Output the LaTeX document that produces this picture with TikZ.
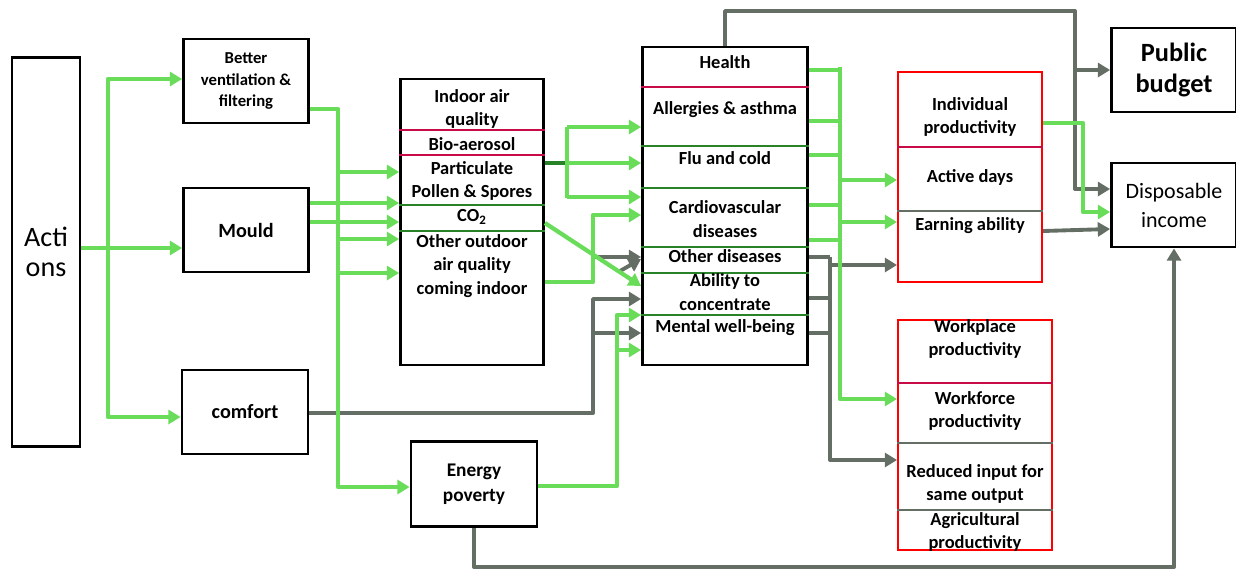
\documentclass[tikz,border=0pt]{standalone}
\usepackage{fontspec}
\setmainfont{Carlito}
\usetikzlibrary{arrows.meta}
\newcommand\pxu{0.02cm}
\definecolor{lgreen}{RGB}{105,220,90}
\definecolor{dkgreen}{RGB}{40,130,40}
\definecolor{arrgray}{RGB}{100,110,100}
\definecolor{crimsonl}{RGB}{200,10,70}
\tikzset{
  box/.style={draw, line width=1.6pt, inner sep=0pt, align=center, font=\bfseries\fontsize{10.5}{13}\selectfont},
  redbox/.style={draw=red, line width=1.1pt, inner sep=0pt},
  lbl/.style={inner sep=0pt, align=center, font=\bfseries\fontsize{10.5}{13.5}\selectfont},
  gline/.style={draw=lgreen, line width=2.4pt, line join=round},
  garrow/.style={gline, -{Triangle[length=7pt,width=8pt]}},
  grline/.style={draw=arrgray, line width=2.2pt, line join=round},
  grarrow/.style={grline, -{Triangle[length=7pt,width=8pt]}},
  redsep/.style={draw=crimsonl, line width=1.3pt},
  grnsep/.style={draw=dkgreen, line width=1.2pt},
  graysep/.style={draw=arrgray, line width=1.6pt}
}
\begin{document}
\begin{tikzpicture}[x=\pxu, y=-\pxu]
  \useasboundingbox (0,0) rectangle (1236,569);

  \node[box, minimum width=68*\pxu, minimum height=389*\pxu, font=\fontsize{16}{17.5}\selectfont] (actions) at (46,252) {Acti\\ons};
  \node[box, minimum width=125*\pxu, minimum height=84*\pxu, font=\bfseries\fontsize{9.5}{12.5}\selectfont] (better) at (246,81) {Better\\ventilation \&\\filtering};
  \node[box, minimum width=125*\pxu, minimum height=84*\pxu, font=\bfseries\fontsize{11.5}{14}\selectfont] (mould) at (246,230) {Mould};
  \node[box, minimum width=126*\pxu, minimum height=84*\pxu, font=\bfseries\fontsize{11.5}{14}\selectfont] (comfort) at (245,412) {comfort};
  \node[box, minimum width=143*\pxu, minimum height=286*\pxu] (indoor) at (472,222) {};
  \node[box, minimum width=126*\pxu, minimum height=85*\pxu, font=\bfseries\fontsize{11}{14}\selectfont] (energy) at (474,484) {Energy\\poverty};
  \node[box, minimum width=165*\pxu, minimum height=318*\pxu] (health) at (725,206) {};
  \node[redbox, minimum width=144*\pxu, minimum height=210*\pxu] (prodA) at (970,177) {};
  \node[redbox, minimum width=154*\pxu, minimum height=230*\pxu] (prodB) at (975,435) {};
  \node[box, minimum width=125*\pxu, minimum height=84*\pxu, font=\bfseries\fontsize{15}{18}\selectfont] (public) at (1174,70) {Public\\budget};
  \node[box, minimum width=125*\pxu, minimum height=84*\pxu, font=\fontsize{12.5}{16.5}\selectfont] (dispo) at (1174,205) {Disposable\\income};

  \draw[redsep] (indoor.west |- 0,130) -- (indoor.east |- 0,130);
  \draw[redsep] (indoor.west |- 0,155) -- (indoor.east |- 0,155);
  \draw[grnsep] (indoor.west |- 0,205) -- (indoor.east |- 0,205);
  \draw[grnsep] (indoor.west |- 0,231) -- (indoor.east |- 0,231);
  \node[lbl] (iaq) at (472,109) {Indoor air\\quality};
  \node[lbl] (bio) at (472,144) {Bio-aerosol};
  \node[lbl] (partic) at (472,181) {Particulate\\Pollen \& Spores};
  \node[lbl] (co2) at (472,217) {CO\textsubscript{2}};
  \node[lbl] (outdoor) at (472,266) {Other outdoor\\air quality\\coming indoor};

  \draw[redsep] (health.west |- 0,87) -- (health.east |- 0,87);
  \foreach \y in {146,188,247,273,315}
    \draw[grnsep] (health.west |- 0,\y) -- (health.east |- 0,\y);
  \node[lbl] (hlth) at (725,62) {Health};
  \node[lbl] (allerg) at (725,110) {Allergies \& asthma};
  \node[lbl] (flu) at (725,158) {Flu and cold};
  \node[lbl] (cardio) at (725,219) {Cardiovascular\\diseases};
  \node[lbl] (othdis) at (725,256) {Other diseases};
  \node[lbl] (concent) at (725,292) {Ability to\\concentrate};
  \node[lbl] (mental) at (725,328) {Mental well-being};

  \draw[redsep] (prodA.west |- 0,147) -- (prodA.east |- 0,147);
  \draw[graysep] (prodA.west |- 0,211) -- (prodA.east |- 0,211);
  \node[lbl] (indiv) at (970,117) {Individual\\productivity};
  \node[lbl] (active) at (970,177) {Active days};
  \node[lbl] (earning) at (970,226) {Earning ability};

  \draw[redsep] (prodB.west |- 0,383) -- (prodB.east |- 0,383);
  \draw[graysep] (prodB.west |- 0,443) -- (prodB.east |- 0,443);
  \draw[graysep] (prodB.west |- 0,510) -- (prodB.east |- 0,510);
  \node[lbl] (workpl) at (975,339) {Workplace\\productivity};
  \node[lbl] (workfc) at (975,411) {Workforce\\productivity};
  \node[lbl] (reduced) at (975,484) {Reduced input for\\same output};
  \node[lbl] (agri) at (975,532) {Agricultural\\productivity};

  \coordinate (grA) at (594,257);
  \coordinate (grB) at (620,271);
  \draw[grarrow] (comfort.east |- 0,413) -| (593,299) -- (health.west |- 0,299);
  \draw[grarrow] (593,333) -- (health.west |- 0,333);
  \draw[grarrow] (grA) -- (health.west |- 0,257);
  \draw[grarrow] (grB) -- (health.west |- 0,259);
  \draw[grarrow] (energy.south) |- (dispo.south |- 0,567) -- (dispo.south);
  \draw[grarrow] (health.north) |- (1075,11) |- (dispo.west |- 0,189);
  \draw[grarrow] (1075,70) -- (public.west);
  \draw[grarrow] (prodA.east |- 0,231) -- (dispo.west |- 0,229);
  \foreach \y in {257,298,333}
    \draw[grline] (health.east |- 0,\y) -- (830,\y);
  \draw[grarrow] (830,257) |- (prodB.west |- 0,460);
  \draw[grarrow] (830,265) -- (prodA.west |- 0,265);

  \draw[garrow] (actions.east |- 0,248) -- (mould.west |- 0,248);
  \draw[garrow] (108,248) |- (better.west |- 0,79);
  \draw[garrow] (108,248) |- (comfort.west |- 0,417);
  \draw[garrow] (better.east |- 0,109) -| (338,487) -- (energy.west |- 0,487);
  \foreach \y in {172,239,273}
    \draw[garrow] (338,\y) -- (indoor.west |- 0,\y);
  \foreach \y in {203,222}
    \draw[garrow] (mould.east |- 0,\y) -- (indoor.west |- 0,\y);

  \draw[draw=dkgreen, line width=2.6pt] (indoor.east |- 0,163) -- (567,163);
  \draw[gline] (567,127) -- (567,198);
  \foreach \y in {127,163,197}
    \draw[garrow] (567,\y) -- (health.west |- 0,\y);
  \draw[garrow] (indoor.east |- 0,282) -| (593,215) -- (health.west |- 0,215);
  \draw[garrow] (indoor.east |- 0,223) -- (health.west |- 0,286);
  \draw[garrow] (energy.east |- 0,486) -| (617,315) -- (health.west |- 0,315);
  \draw[garrow] (617,350) -- (health.west |- 0,350);

  \foreach \y in {70,121,155,205,240}
    \draw[gline] (health.east |- 0,\y) -- (840,\y);
  \draw[garrow] (840,67) |- (prodB.west |- 0,399);
  \foreach \y in {180,222}
    \draw[garrow] (840,\y) -- (prodA.west |- 0,\y);
  \draw[garrow] (prodA.east |- 0,123) -| (1083,212) -- (dispo.west |- 0,212);
\end{tikzpicture}
\end{document}
